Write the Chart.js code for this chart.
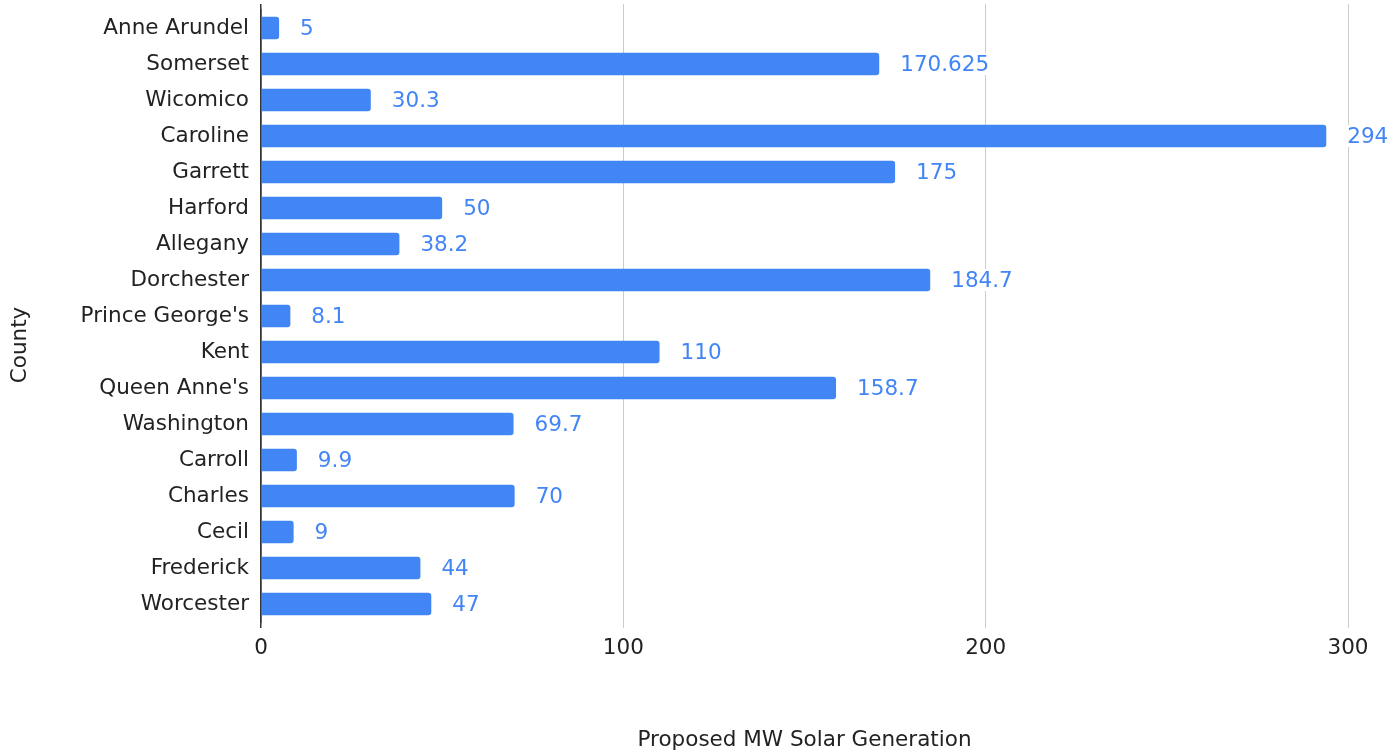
<!DOCTYPE html>
<html>
<head>
<meta charset="utf-8">
<script src="https://cdn.jsdelivr.net/npm/chart.js@4"></script>
<style>
  html, body { margin: 0; padding: 0; background: #fff; }
  #wrap { width: 1392px; height: 756px; position: relative; }
</style>
</head>
<body>
<div id="wrap"><canvas id="solarChart"></canvas></div>
<script>
var counties = ['Anne Arundel', 'Somerset', 'Wicomico', 'Caroline', 'Garrett', 'Harford', 'Allegany',
    'Dorchester', "Prince George's", 'Kent', "Queen Anne's", 'Washington', 'Carroll', 'Charles',
    'Cecil', 'Frederick', 'Worcester'];
var proposedMW = [5, 170.625, 30.3, 294, 175, 50, 38.2, 184.7, 8.1, 110, 158.7, 69.7, 9.9, 70, 9, 44, 47];
var xTicks = [0, 100, 200, 300];

var FONT = "'DejaVu Sans', Verdana, sans-serif";
var FSIZE = 21.5;
var BLUE = '#4285F4';

// valeurs en bout de barre
var valueLabels = {
    id: 'valueLabels',
    afterDatasetsDraw: function(chart) {
        var ctx = chart.ctx;
        var meta = chart.getDatasetMeta(0);
        ctx.save();
        ctx.font = FSIZE + 'px ' + FONT;
        ctx.textAlign = 'left';
        ctx.textBaseline = 'middle';
        meta.data.forEach(function(bar, i) {
            var txt = String(proposedMW[i]);
            var x = bar.x + 21;
            var w = ctx.measureText(txt).width;
            ctx.fillStyle = '#fff';
            ctx.fillRect(x - 1, bar.y - 11, w + 2, 22);
            ctx.fillStyle = BLUE;
            ctx.fillText(txt, x, bar.y + 1);
        });
        ctx.restore();
    }
};

// grille qui depasse un peu au-dessus + titre vertical
var extras = {
    id: 'extras',
    beforeDatasetsDraw: function(chart) {
        var ctx = chart.ctx;
        var area = chart.chartArea;
        var xs = chart.scales.x;
        ctx.save();
        xTicks.forEach(function(v) {
            var lw = v === 0 ? 1.5 : 1;
            var px = Math.round(xs.getPixelForValue(v) - lw / 2) + lw / 2;
            ctx.beginPath();
            ctx.strokeStyle = v === 0 ? '#333' : '#cccccc';
            ctx.lineWidth = lw;
            ctx.moveTo(px, area.top - 6);
            ctx.lineTo(px, area.top);
            ctx.stroke();
        });
        ctx.restore();
    },
    afterDraw: function(chart) {
        var ctx = chart.ctx;
        ctx.save();
        ctx.translate(20, 345);
        ctx.rotate(-Math.PI / 2);
        ctx.font = FSIZE + 'px ' + FONT;
        ctx.fillStyle = '#222';
        ctx.textAlign = 'center';
        ctx.textBaseline = 'middle';
        ctx.fillText('County', 0, 0);
        ctx.restore();
    }
};

var ctx = document.getElementById('solarChart').getContext('2d');
new Chart(ctx, {
    type: 'bar',
    data: {
        labels: counties,
        datasets: [{
            label: 'Proposed MW Solar Generation',
            data: proposedMW,
            backgroundColor: BLUE,
            borderRadius: 3,
            barPercentage: 0.63,
            categoryPercentage: 1
        }]
    },
    options: {
        indexAxis: 'y',
        responsive: true,
        maintainAspectRatio: false,
        animation: false,
        layout: { padding: { top: 10, right: 44, left: 0, bottom: 0 } },
        plugins: {
            legend: { display: false },
            tooltip: { enabled: false }
        },
        scales: {
            x: {
                min: 0,
                max: 300,
                afterBuildTicks: function(axis) {
                    axis.ticks = xTicks.map(function(v) { return { value: v }; });
                },
                afterFit: function(axis) {
                    axis.height = 134;
                    axis.paddingLeft = 0;
                    axis.paddingRight = 0;
                },
                grid: {
                    color: function(c) { return c.tick && c.tick.value === 0 ? '#333' : '#cccccc'; },
                    lineWidth: function(c) { return c.tick && c.tick.value === 0 ? 1.5 : 1; },
                    tickLength: 6
                },
                border: { display: false },
                ticks: {
                    color: '#222',
                    padding: 8,
                    font: { family: FONT, size: FSIZE }
                },
                title: {
                    display: true,
                    text: 'Proposed MW Solar Generation',
                    color: '#222',
                    font: { family: FONT, size: FSIZE },
                    padding: { top: 0, bottom: 3 }
                }
            },
            y: {
                afterFit: function(axis) {
                    axis.width = 261;
                    axis.paddingTop = 0;
                    axis.paddingBottom = 0;
                },
                grid: { display: false, drawTicks: false },
                border: { display: true, color: '#333', width: 1.5 },
                ticks: {
                    color: '#222',
                    padding: 12,
                    autoSkip: false,
                    font: { family: FONT, size: FSIZE }
                }
            }
        }
    },
    plugins: [valueLabels, extras]
});
</script>
</body>
</html>
